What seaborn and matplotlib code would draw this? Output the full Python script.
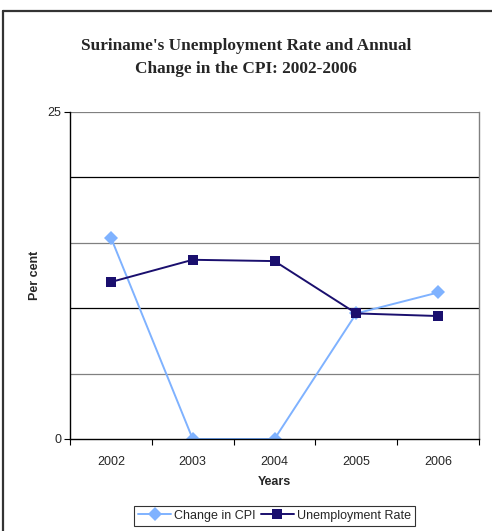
import pandas as pd
import matplotlib
matplotlib.use("Agg")
import matplotlib.pyplot as plt
import seaborn as sns
from matplotlib.lines import Line2D

years = ["2002", "2003", "2004", "2005", "2006"]
cpi_change = [15.4, 0.0, 0.0, 9.6, 11.2]
unemployment = [12.0, 13.7, 13.6, 9.6, 9.4]

df = pd.DataFrame({
    "Years": years * 2,
    "value": cpi_change + unemployment,
    "series": ["Change in CPI"] * 5 + ["Unemployment Rate"] * 5,
})

sns.set_theme(style="white")
plt.rcParams["font.family"] = ["Liberation Sans", "DejaVu Sans"]

fig = plt.figure(figsize=(4.92, 5.31), dpi=100)
ax = fig.add_axes([0.1423, 0.1733, 0.8313, 0.6158])

sns.lineplot(
    data=df, x="Years", y="value", hue="series", style="series",
    palette={"Change in CPI": "#7FB2FF", "Unemployment Rate": "#1A0F6E"},
    markers={"Change in CPI": "D", "Unemployment Rate": "s"},
    dashes=False, markersize=7,
    linewidth=1.4, markeredgewidth=0, ax=ax, sort=False,
)

ax.set_xlim(-0.5, 4.5)
ax.set_ylim(0, 25)
ax.set_yticks([0, 25])
for yv, col in [(5, "#808080"), (10, "black"), (15, "#808080"), (20, "black"), (25, "#808080")]:
    ax.axhline(yv, color=col, linewidth=0.9, zorder=0)

ax.set_xticks([-0.5, 0.5, 1.5, 2.5, 3.5, 4.5], minor=True)
ax.tick_params(axis="x", which="major", length=0, labelsize=9, pad=12)
ax.tick_params(axis="x", which="minor", length=4, width=0.8, color="black", direction="out", bottom=True)
ax.tick_params(axis="y", length=4, width=0.8, color="black", direction="out", left=True, labelsize=9, pad=2)

for side in ["left", "bottom"]:
    ax.spines[side].set_color("black")
    ax.spines[side].set_linewidth(1.0)
ax.spines["top"].set_visible(False)
ax.spines["right"].set_color("#808080")
ax.spines["right"].set_linewidth(1.0)

ax.set_xlabel("Years", fontsize=9, fontweight="bold", labelpad=6)
ax.set_ylabel("Per cent", fontsize=9, fontweight="bold", labelpad=2)
ax.yaxis.set_label_coords(-0.072, 0.5)

fig.text(0.5, 0.928, "Suriname's Unemployment Rate and Annual\nChange in the CPI: 2002-2006",
         ha="center", va="top", fontsize=12.4, fontweight="bold",
         family="Liberation Serif", linespacing=1.6)

leg = ax.legend(loc="center", bbox_to_anchor=(0.5, -0.235), ncol=2,
                frameon=True, fancybox=False, edgecolor="black", fontsize=9,
                handlelength=2.65, handletextpad=0.25, columnspacing=0.4,
                borderpad=0.3, borderaxespad=0)
leg.get_frame().set_linewidth(0.8)

# chart border only shows on the top and left edges
fig.lines.append(Line2D([0.006, 0.006], [0.0, 0.980], transform=fig.transFigure,
                        color="#333333", linewidth=1.6))
fig.lines.append(Line2D([0.006, 1.0], [0.980, 0.980], transform=fig.transFigure,
                        color="#333333", linewidth=1.6))

fig.savefig("out.png", dpi=100)
